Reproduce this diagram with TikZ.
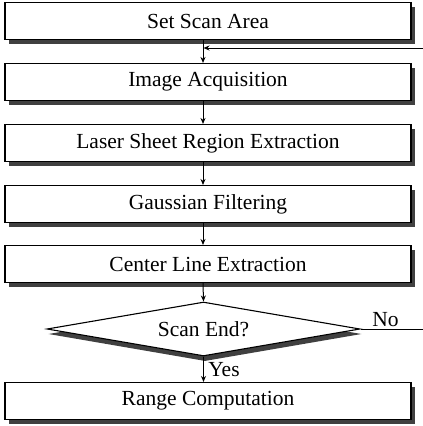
\documentclass[tikz,border=0pt]{standalone}
\usepackage{fontspec}
\setmainfont{Liberation Serif}
\usetikzlibrary{shapes.geometric,arrows.meta,calc}
\begin{document}
\begin{tikzpicture}[x=1pt,y=-1pt,
  font=\fontsize{21.5}{25}\selectfont,
  procbox/.style={draw=black,line width=1.1pt,fill=white,minimum width=406pt,minimum height=37pt,inner sep=0pt},
  shadowbox/.style={fill=black!75,minimum width=406pt,minimum height=37pt,inner sep=0pt},
  decis/.style={draw=black,line width=1.1pt,fill=white,diamond,aspect=5.8,minimum width=313pt,minimum height=54pt,inner sep=0pt},
  decshadow/.style={fill=black!75,diamond,aspect=5.8,minimum width=313pt,minimum height=54pt,inner sep=0pt},
  arr/.style={line width=1pt,-{Stealth[length=6pt,width=5pt]}},
  plain/.style={line width=1pt}]
\useasboundingbox (0,0) rectangle (423,426);
% shadows
\foreach \yy in {21,82,143,204,264,401}
  \node[shadowbox] at (212,\yy+4) {};
\node[decshadow] at (205,334) {};
% boxes
\node[procbox] (a) at (208,21) {Set Scan Area};
\node[procbox] (b) at (208,82) {Image Acquisition};
\node[procbox] (c) at (208,143) {Laser Sheet Region Extraction};
\node[procbox] (e) at (208,204) {Gaussian Filtering};
\node[procbox] (f) at (208,264) {Center Line Extraction};
\node[decis] (d) at (203.5,329) {Scan End?};
\node[procbox] (g) at (208,401) {Range Computation};
% coordinates at the right border
\coordinate (fbR) at (423,48);
\coordinate (noR) at (423,329);
% arrows
\draw[arr] ([xshift=-5pt]a.south) -- ([xshift=-5pt]b.north);
\draw[arr] ([xshift=-5pt]b.south) -- ([xshift=-5pt]c.north);
\draw[arr] ([xshift=-5pt]c.south) -- ([xshift=-5pt]e.north);
\draw[arr] ([xshift=-5pt]e.south) -- ([xshift=-5pt]f.north);
\draw[arr] ([xshift=-5pt]f.south) -- (d.north);
\draw[arr] (d.south) -- (d.south |- g.north) node[pos=0.5,right=1pt] {Yes};
\draw[plain] (d.east) -- (noR) node[pos=0.4,above=-2pt] {No};
\draw[arr] (fbR) -- (fbR -| d.north);
\end{tikzpicture}
\end{document}
